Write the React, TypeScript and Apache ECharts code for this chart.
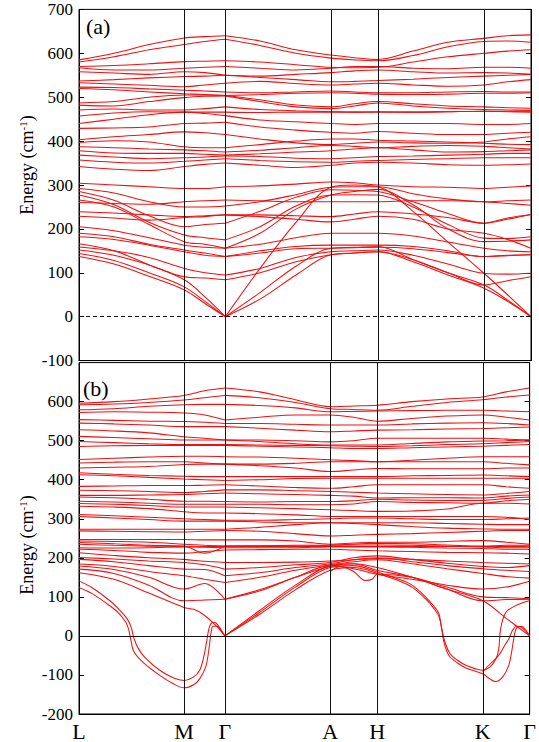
import { useEffect, useRef } from 'react';
import * as echarts from 'echarts';

// k-path positions (arbitrary path-length units) of sampled points
const kGrid = [0, 35, 70, 105.3, 126, 146.3, 181, 217, 252, 275.5, 299, 334, 369, 405, 428.5, 452];
// high-symmetry points
const kTicks = [0, 105.3, 146.3, 252, 299, 405, 452];
const kLabels = ['L', 'M', 'Γ', 'A', 'H', 'K', 'Γ'];

// Panel (a) bands, values (cm-1) at kGrid
const bandsA: number[][] = [
  [585, 600, 620, 635, 638, 640, 628, 608, 596, 590, 586, 605, 625, 634, 640, 642],
  [580, 592, 608, 620, 627, 632, 618, 600, 589, 585, 583, 595, 615, 627, 628, 625],
  [570, 572, 576, 581, 582, 583, 580, 574, 568, 567, 568, 580, 592, 600, 605, 608],
  [567, 562, 562, 566, 568, 570, 566, 562, 566, 570, 570, 566, 565, 568, 568, 566],
  [558, 555, 552, 558, 556, 550, 548, 552, 556, 560, 562, 558, 555, 556, 555, 552],
  [537, 540, 544, 547, 548, 550, 545, 540, 535, 536, 538, 541, 545, 548, 550, 552],
  [533, 530, 527, 524, 528, 532, 536, 531, 528, 530, 532, 528, 525, 528, 535, 540],
  [523, 522, 519, 516, 514, 512, 510, 512, 514, 512, 510, 510, 512, 513, 512, 512],
  [520, 517, 512, 508, 506, 504, 506, 509, 510, 509, 507, 506, 507, 509, 509, 510],
  [487, 490, 500, 505, 505, 504, 494, 482, 478, 485, 490, 485, 480, 478, 476, 475],
  [482, 480, 490, 499, 502, 503, 490, 478, 474, 480, 487, 480, 475, 472, 471, 470],
  [471, 473, 471, 471, 474, 478, 472, 469, 467, 466, 466, 466, 467, 468, 468, 468],
  [457, 464, 467, 466, 466, 466, 465, 466, 466, 466, 467, 466, 467, 468, 467, 466],
  [440, 450, 460, 466, 463, 458, 448, 444, 440, 438, 440, 440, 440, 438, 438, 440],
  [429, 430, 432, 440, 441, 443, 432, 425, 420, 418, 422, 418, 415, 415, 418, 420],
  [403, 410, 415, 421, 419, 415, 405, 396, 392, 395, 398, 396, 395, 398, 405, 410],
  [397, 401, 398, 387, 385, 385, 392, 400, 405, 405, 402, 400, 398, 395, 393, 392],
  [387, 385, 382, 380, 378, 375, 379, 385, 390, 388, 385, 388, 390, 388, 385, 382],
  [378, 373, 372, 372, 370, 368, 371, 375, 378, 382, 385, 380, 375, 376, 378, 380],
  [368, 364, 360, 362, 364, 366, 365, 361, 360, 362, 365, 366, 368, 370, 372, 372],
  [357, 352, 350, 354, 357, 360, 356, 353, 352, 354, 356, 358, 360, 362, 362, 362],
  [342, 336, 333, 342, 347, 350, 345, 340, 345, 350, 352, 350, 346, 345, 346, 348],
  [304, 300, 296, 292, 292, 296, 298, 302, 307, 305, 300, 296, 295, 292, 295, 298],
  [292, 282, 262, 250, 250, 252, 262, 278, 295, 296, 296, 280, 268, 262, 264, 266],
  [285, 265, 230, 205, 210, 213, 240, 272, 289, 288, 285, 262, 235, 213, 225, 233],
  [277, 255, 215, 186, 180, 175, 205, 252, 277, 278, 277, 250, 210, 179, 178, 182],
  [266, 250, 210, 171, 165, 156, 190, 245, 277, 285, 290, 255, 200, 171, 172, 175],
  [260, 258, 256, 262, 264, 266, 264, 262, 262, 262, 262, 264, 264, 262, 258, 254],
  [239, 236, 232, 228, 230, 232, 232, 230, 228, 234, 239, 234, 226, 213, 222, 233],
  [229, 225, 220, 226, 228, 232, 228, 222, 216, 222, 229, 222, 200, 190, 176, 156],
  [205, 196, 180, 163, 158, 156, 165, 180, 190, 190, 190, 184, 170, 156, 150, 148],
  [190, 182, 165, 152, 145, 137, 150, 160, 163, 163, 163, 160, 150, 137, 140, 141],
  [182, 176, 163, 148, 140, 137, 145, 155, 156, 157, 158, 155, 146, 137, 139, 141],
  [159, 150, 135, 110, 100, 95, 110, 135, 148, 150, 152, 140, 120, 99, 97, 99],
  [152, 140, 118, 91, 88, 84, 100, 125, 141, 145, 148, 130, 100, 72, 82, 91],
  [144, 128, 100, 68, 35, 0, 40, 95, 141, 145, 148, 125, 95, 65, 35, 0],
  [137, 120, 92, 61, 30, 0, 55, 115, 156, 158, 160, 130, 100, 72, 38, 0],
  [166, 150, 118, 84, 45, 0, 110, 215, 295, 300, 296, 240, 170, 99, 50, 0],
];

// Panel (b) bands, values (cm-1) at kGrid
const bandsB: number[][] = [
  [596, 600, 607, 616, 628, 635, 625, 605, 587, 589, 591, 600, 607, 612, 625, 635],
  [592, 594, 598, 604, 610, 616, 610, 598, 582, 580, 578, 588, 598, 605, 612, 617],
  [579, 582, 588, 592, 593, 593, 590, 584, 574, 575, 576, 577, 578, 578, 576, 574],
  [572, 574, 573, 571, 566, 553, 560, 566, 566, 560, 550, 557, 563, 566, 560, 553],
  [554, 552, 550, 549, 547, 544, 544, 542, 540, 540, 540, 543, 545, 546, 544, 540],
  [545, 543, 540, 536, 536, 536, 532, 527, 523, 525, 527, 528, 530, 531, 533, 535],
  [528, 525, 520, 510, 506, 502, 502, 500, 497, 500, 506, 506, 506, 506, 504, 502],
  [511, 508, 505, 502, 502, 502, 498, 492, 489, 489, 489, 493, 497, 499, 500, 502],
  [498, 495, 492, 490, 490, 490, 489, 488, 487, 486, 485, 487, 490, 492, 495, 498],
  [485, 487, 488, 488, 488, 488, 486, 484, 482, 480, 480, 482, 484, 486, 488, 490],
  [452, 455, 458, 460, 460, 459, 458, 455, 451, 449, 446, 450, 455, 459, 459, 459],
  [443, 445, 446, 446, 443, 440, 440, 442, 446, 446, 446, 446, 446, 446, 442, 438],
  [430, 432, 434, 439, 440, 440, 436, 430, 421, 425, 429, 428, 428, 428, 430, 430],
  [418, 414, 411, 409, 408, 408, 408, 408, 408, 408, 408, 410, 411, 412, 410, 408],
  [413, 410, 406, 402, 400, 398, 400, 403, 404, 404, 404, 404, 404, 404, 404, 404],
  [383, 384, 385, 385, 386, 387, 384, 380, 378, 382, 387, 387, 387, 387, 382, 378],
  [373, 372, 370, 367, 370, 374, 374, 372, 370, 368, 366, 364, 362, 361, 365, 370],
  [360, 360, 361, 362, 364, 366, 364, 362, 360, 358, 353, 354, 354, 353, 358, 361],
  [356, 354, 350, 345, 345, 344, 343, 344, 344, 346, 350, 348, 347, 347, 352, 356],
  [345, 343, 340, 337, 337, 337, 337, 336, 336, 338, 344, 342, 341, 340, 346, 350],
  [339, 337, 334, 330, 330, 330, 328, 326, 323, 321, 319, 320, 325, 340, 340, 338],
  [332, 330, 326, 318, 315, 315, 313, 310, 306, 306, 306, 306, 306, 306, 304, 298],
  [311, 308, 304, 300, 298, 296, 296, 298, 300, 302, 302, 300, 298, 298, 300, 302],
  [306, 302, 298, 294, 294, 294, 292, 290, 290, 290, 290, 290, 288, 286, 285, 285],
  [273, 273, 273, 273, 273, 273, 278, 285, 290, 288, 285, 280, 276, 274, 273, 273],
  [269, 268, 267, 266, 268, 270, 268, 262, 256, 258, 260, 262, 265, 268, 270, 270],
  [247, 247, 247, 247, 246, 246, 246, 243, 235, 238, 240, 240, 242, 244, 240, 235],
  [243, 242, 240, 235, 232, 230, 231, 232, 233, 235, 237, 236, 233, 230, 232, 232],
  [239, 236, 232, 230, 212, 230, 230, 230, 232, 233, 233, 232, 230, 228, 226, 226],
  [235, 232, 230, 229, 227, 226, 226, 226, 228, 228, 228, 227, 225, 224, 222, 222],
  [226, 225, 226, 228, 229, 229, 229, 229, 229, 229, 229, 229, 229, 229, 229, 230],
  [222, 219, 214, 212, 216, 220, 221, 222, 222, 220, 218, 216, 214, 213, 212, 210],
  [213, 206, 200, 196, 191, 188, 188, 189, 192, 195, 198, 196, 192, 188, 186, 184],
  [201, 197, 192, 188, 182, 171, 175, 182, 188, 200, 205, 196, 186, 178, 175, 180],
  [196, 190, 180, 171, 170, 154, 162, 175, 185, 195, 200, 190, 180, 172, 168, 165],
  [184, 178, 165, 154, 145, 137, 150, 168, 182, 190, 195, 185, 172, 160, 152, 148],
  [179, 170, 150, 120, 134, 94, 118, 150, 180, 172, 158, 145, 130, 120, 125, 140],
  [171, 160, 130, 90, 92, 94, 115, 150, 178, 185, 175, 150, 120, 90, 93, 94],
];

// Panel (b) soft / unstable modes, [k, value] points
const unstable1: number[][] = [
  [0, 124], [14, 107], [31, 77], [40, 58], [47, 35], [50, 15], [52, -10], [55, -40], [64, -67], [81, -101],
  [95, -123], [105.3, -133], [115, -125], [121, -110], [127, -80], [130, -40], [132.5, 9], [134.5, 25],
  [138, 25], [144, 8], [146.3, 0],
];
const unstable1R: number[][] = [
  [146.3, 0], [181, 55], [217, 118], [252, 168], [275.5, 175], [299, 160], [321, 141], [334, 125], [348, 94],
  [356, 70], [361, 50], [364, 15], [366, -16], [371, -50], [380, -70], [388, -82], [405, -97], [412, -110],
  [418, -117], [425, -105], [431, -76], [434, -40], [436, -8], [438, 15], [441, 24], [444, 24], [449, 12], [452, 0],
];
const unstable2: number[][] = [
  [0, 141], [14, 122], [31, 90], [40, 68], [48, 45], [52, 25], [55, -5], [59, -30], [66, -55], [81, -88],
  [95, -108], [105.3, -114], [115, -105], [121, -88], [125, -55], [128, -15], [130, 15], [132.5, 32],
  [136, 35], [140, 25], [146.3, 0],
];
const unstable2R: number[][] = [
  [146.3, 0], [181, 60], [217, 125], [252, 175], [275.5, 180], [299, 164], [321, 145], [334, 130], [348, 99],
  [356, 76], [361, 57], [363, 30], [365, 5], [367, -15], [372, -45], [380, -63], [388, -75], [405, -88],
  [412, -80], [418, -60], [421, -33], [423, 20], [428, 60], [436, 75], [445, 85], [452, 90],
];
const acousticB: number[][] = [
  [0, 162], [35, 145], [70, 110], [105.3, 73], [115, 68], [124, 56], [137.7, 26], [146.3, 0],
];
const acousticBR: number[][] = [
  [146.3, 0], [181, 65], [217, 130], [252, 180], [275.5, 185], [299, 168], [334, 150], [369, 120],
  [405, 90], [428.5, 45], [452, 0],
];
const peakKG: number[][] = [
  [405, -92], [413, -70], [421, -50], [428, -20], [431, -8], [435, 15], [439, 25], [444, 22], [452, 0],
];
const dipAH: number[][] = [
  [252, 165], [262, 178], [275.5, 165], [287, 142], [294, 145], [299, 158], [334, 150], [369, 125],
  [405, 100], [428.5, 98], [452, 95],
];

const RED = '#f01010';
const FONT = 'Liberation Serif';

function bandSeries(data: number[][], gi: number) {
  return {
    type: 'line',
    xAxisIndex: gi,
    yAxisIndex: gi * 2,
    data,
    smooth: 0.35,
    symbol: 'none',
    silent: true,
    lineStyle: { color: RED, width: 1.05 },
    z: 3,
  };
}

function gridBands(bands: number[][], gi: number) {
  const out: any[] = [];
  bands.forEach((b) => {
    const left = kGrid.slice(0, 6).map((k, i) => [k, b[i]]);
    const right = kGrid.slice(5).map((k, i) => [k, b[i + 5]]);
    out.push(bandSeries(left, gi), bandSeries(right, gi));
  });
  return out;
}

function refSeries(gi: number, dashed: boolean) {
  return {
    type: 'line',
    xAxisIndex: gi,
    yAxisIndex: gi * 2,
    data: [[0, 0]],
    symbol: 'none',
    silent: true,
    lineStyle: { width: 0, opacity: 0 },
    z: 2,
    markLine: {
      silent: true,
      symbol: ['none', 'none'],
      animation: false,
      label: { show: false },
      lineStyle: { color: '#111', width: 1, type: 'solid' },
      data: [
        ...kTicks.slice(1, 6).map((k) => ({ xAxis: k })),
        { yAxis: 0, lineStyle: { color: '#111', width: 1, type: dashed ? [4, 3] : 'solid' } },
      ],
    },
  };
}

function yAxes(gi: number, min: number, hideMax: boolean) {
  const common = {
    gridIndex: gi,
    type: 'value',
    min,
    max: 700,
    interval: 100,
    splitLine: { show: false },
    axisLine: { show: true, lineStyle: { color: '#000', width: 1 } },
    axisTick: { show: true, inside: true, length: 5, lineStyle: { color: '#000' } },
  };
  return [
    {
      ...common,
      position: 'left',
      axisLabel: {
        show: true,
        color: '#000',
        fontFamily: FONT,
        fontSize: 17,
        margin: 6,
        showMaxLabel: !hideMax,
      },
    },
    { ...common, position: 'right', axisLabel: { show: false } },
  ];
}

function xAxis(gi: number, labels: boolean) {
  return {
    gridIndex: gi,
    type: 'value',
    min: 0,
    max: 452,
    splitLine: { show: false },
    axisLine: { show: true, onZero: false, lineStyle: { color: '#000', width: 1 } },
    axisTick: { show: false },
    axisLabel: labels
      ? {
          show: true,
          customValues: kTicks,
          formatter: (v: number) => {
            const i = kTicks.findIndex((k) => Math.abs(k - v) < 0.01);
            return i >= 0 ? kLabels[i] : '';
          },
          color: '#000',
          fontFamily: FONT,
          fontSize: 22,
          margin: 6,
          showMinLabel: true,
          showMaxLabel: true,
        }
      : { show: false },
  };
}

export default function App() {
  const ref = useRef<HTMLDivElement>(null);
  useEffect(() => {
    if (!ref.current) return;
    const chart = echarts.init(ref.current, undefined, { renderer: 'svg' });
    const specials = [unstable1, unstable1R, unstable2, unstable2R, acousticB, acousticBR, peakKG, dipAH];
    chart.setOption({
      animation: false,
      grid: [
        { left: 79, right: 8, top: 9.4, bottom: 381.4, show: true, borderColor: '#000', borderWidth: 1 },
        { left: 79, right: 8, top: 362.6, bottom: 26.6, show: true, borderColor: '#000', borderWidth: 1 },
      ],
      xAxis: [xAxis(0, false), xAxis(1, true)],
      yAxis: [...yAxes(0, -100, false), ...yAxes(1, -200, true)],
      series: [
        refSeries(0, true),
        refSeries(1, false),
        ...gridBands(bandsA, 0),
        ...gridBands(bandsB, 1),
        ...specials.map((d) => bandSeries(d, 1)),
      ],
      graphic: [
        {
          type: 'text',
          x: 86,
          y: 26,
          style: { text: '(a)', fill: '#000', fontSize: 22, fontFamily: FONT, textAlign: 'left', textVerticalAlign: 'middle' },
        },
        {
          type: 'text',
          x: 83,
          y: 388,
          style: { text: '(b)', fill: '#000', fontSize: 22, fontFamily: FONT, textAlign: 'left', textVerticalAlign: 'middle' },
        },
        ...[165, 545].map((cy) => ({
          type: 'text',
          x: 27,
          y: cy,
          rotation: Math.PI / 2,
          style: {
            text: '{n|Energy (cm}{s|-1}{n|)}',
            textAlign: 'center',
            textVerticalAlign: 'middle',
            rich: {
              n: { fontSize: 18, fontFamily: FONT, fill: '#000' },
              s: { fontSize: 11, fontFamily: FONT, fill: '#000', verticalAlign: 'top', padding: [0, 0, 8, 0] },
            },
          },
        })),
      ],
    });
    return () => chart.dispose();
  }, []);
  return <div ref={ref} style={{ width: 539, height: 742, position: 'absolute', left: 0, top: 0 }} />;
}
